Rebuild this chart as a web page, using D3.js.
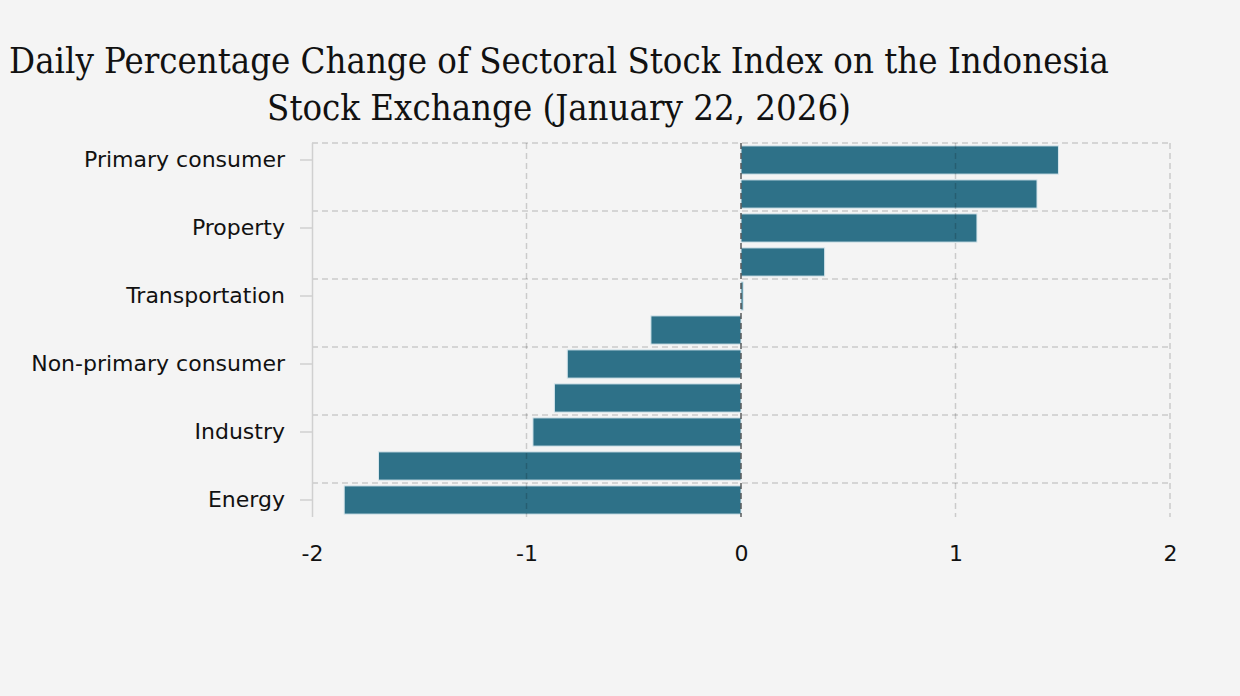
<!DOCTYPE html>
<html lang="en">
<head>
<meta charset="UTF-8">
<title>Sectoral Stock Index</title>
<script src="https://d3js.org/d3.v7.min.js"></script>
<style>
  body { margin: 0; background: #f4f4f4; }
  svg { display: block; }
</style>
</head>
<body>
<svg id="chart" width="1240" height="696"></svg>
<script>
// sectors, sorted top to bottom (only every other one gets a label on the axis)
const sectors = ["Primary consumer", "Technology", "Property", "Infrastructure", "Transportation",
  "Health", "Non-primary consumer", "Finance", "Industry", "Raw materials", "Energy"];
const changes = [1.48, 1.38, 1.10, 0.39, 0.01, -0.42, -0.81, -0.87, -0.97, -1.69, -1.85];
const xTicks = [-2, -1, 0, 1, 2];
const titleLines = ["Daily Percentage Change of Sectoral Stock Index on the Indonesia",
  "Stock Exchange (January 22, 2026)"];

const data = sectors.map((s, i) => ({ sector: s, value: changes[i] }));

const svg = d3.select("#chart");
const margin = { top: 143, left: 312, right: 70, bottom: 179 };
const width = 1240, height = 696;

// title
const titleSize = 35;
const title = svg.append("g")
  .attr("font-family", "'DejaVu Serif Condensed', 'DejaVu Serif', serif")
  .attr("fill", "#111");
titleLines.forEach((t, i) => {
  title.append("text")
    .attr("x", 559)
    .attr("y", 73 + i * 47)
    .attr("text-anchor", "middle")
    .attr("font-size", titleSize)
    .text(t);
});
// shrink to fit the width of the first line
const w0 = title.select("text").node().getComputedTextLength();
const k = 1100 / w0;
title.selectAll("text").attr("font-size", titleSize * k);

let x = d3.scaleLinear()
  .domain([-2, 2])
  .range([margin.left, width - margin.right]);

let y = d3.scaleBand()
  .domain(sectors)
  .range([margin.top, height - margin.bottom])
  .paddingInner(0.17)
  .paddingOuter(0.085);

const step = y.step();
const plotTop = margin.top, plotBottom = height - margin.bottom;

// bars
svg.append("g")
  .selectAll("rect")
  .data(data)
  .enter()
  .append("rect")
  .attr("x", d => x(Math.min(0, d.value)))
  .attr("y", d => y(d.sector))
  .attr("width", d => Math.max(1.5, Math.abs(x(d.value) - x(0))))
  .attr("height", y.bandwidth())
  .attr("fill", "#2e7188")
  .attr("stroke", "#d6e6ec")
  .attr("stroke-width", 1);

// grid, drawn over the bars
const grid = svg.append("g")
  .attr("stroke", "#000")
  .attr("stroke-opacity", 0.17)
  .attr("stroke-width", 1.5)
  .attr("stroke-dasharray", "6,4");

grid.selectAll("line.v")
  .data(xTicks.filter(d => d !== 0 && d !== -2))
  .enter()
  .append("line")
  .attr("x1", d => x(d)).attr("x2", d => x(d))
  .attr("y1", plotTop).attr("y2", plotBottom);

const hLines = sectors.filter((s, i) => i % 2 === 0);
grid.selectAll("line.h")
  .data(hLines)
  .enter()
  .append("line")
  .attr("x1", x(-2)).attr("x2", x(2))
  .attr("y1", d => y(d) - step * y.paddingInner() / 2)
  .attr("y2", d => y(d) - step * y.paddingInner() / 2);

// zero line
svg.append("line")
  .attr("x1", x(0)).attr("x2", x(0))
  .attr("y1", plotTop).attr("y2", plotBottom)
  .attr("stroke", "#333")
  .attr("stroke-opacity", 0.6)
  .attr("stroke-width", 2)
  .attr("stroke-dasharray", "6,4");

// y axis
const yAxis = svg.append("g")
  .attr("transform", `translate(${x(-2)},0)`)
  .call(d3.axisLeft(y)
    .tickValues(hLines)
    .tickSize(12)
    .tickPadding(15)
    .tickSizeOuter(0));
yAxis.select(".domain").attr("stroke", "#d0d0d0").attr("stroke-width", 1.5)
  .attr("d", `M0.5,${plotTop}V${plotBottom}`);
yAxis.selectAll(".tick line").attr("stroke", "#d0d0d0").attr("stroke-width", 1.5);
yAxis.selectAll(".tick text")
  .attr("font-family", "'DejaVu Sans', Verdana, sans-serif")
  .attr("font-size", 22)
  .attr("fill", "#111");

// x axis, labels only
const xAxis = svg.append("g")
  .attr("transform", `translate(0,${plotBottom})`)
  .call(d3.axisBottom(x)
    .tickValues(xTicks)
    .tickFormat(d => d < 0 ? "-" + Math.abs(d) : d)
    .tickSize(0)
    .tickPadding(28));
xAxis.select(".domain").remove();
xAxis.selectAll(".tick text")
  .attr("font-family", "'DejaVu Sans', Verdana, sans-serif")
  .attr("font-size", 22)
  .attr("fill", "#111");
</script>
</body>
</html>
